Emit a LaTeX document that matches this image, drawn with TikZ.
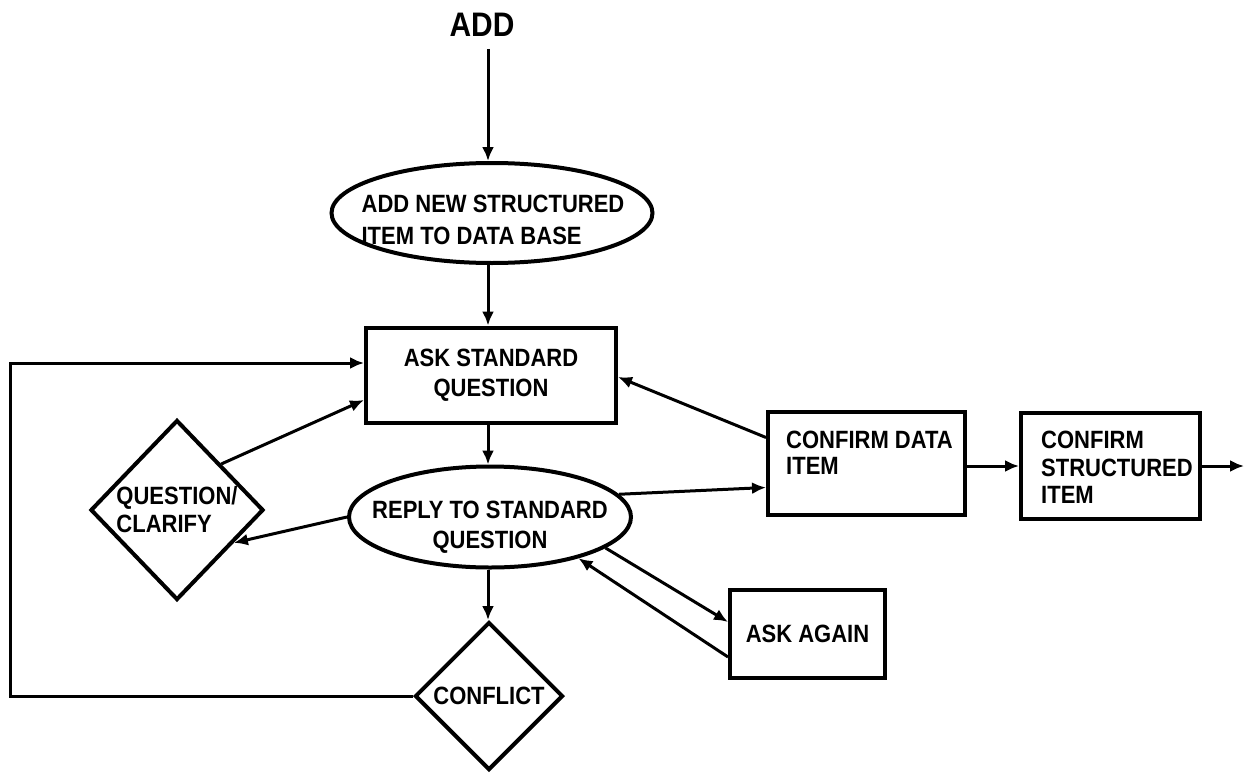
\documentclass[tikz,border=0pt]{standalone}
\usepackage{fontspec}
\setmainfont{Liberation Sans}[FakeStretch=0.88]
\usetikzlibrary{shapes.geometric,arrows.meta}
\begin{document}
\begin{tikzpicture}[x=1pt,y=-1pt,
  txt/.style={font=\bfseries\fontsize{25}{30}\selectfont, inner sep=0pt},
  oval/.style={ellipse, draw, line width=4pt, inner sep=0pt},
  boxnode/.style={rectangle, draw, line width=4pt, inner sep=0pt,
    font=\bfseries\fontsize{25}{30}\selectfont, align=center},
  decision/.style={diamond, draw, line width=4pt, inner sep=0pt,
    font=\bfseries\fontsize{25}{28}\selectfont},
  flow/.style={line width=3pt, -{Latex[length=14pt,width=12pt]}},
]
\useasboundingbox (0,0) rectangle (1249,773);

% entry label
\node[txt, font=\bfseries\fontsize{34}{34}\selectfont] (add) at (482,25) {ADD};

% main column
\node[oval, minimum width=321pt, minimum height=100pt] (new) at (492,213) {};
\node[txt, align=left, font=\bfseries\fontsize{25}{32}\selectfont] (newtext) at (493,220)
  {ADD NEW STRUCTURED\\ITEM TO DATA BASE};
\node[boxnode, minimum width=250pt, minimum height=95pt] (ask) at (491,375)
  {ASK STANDARD\\QUESTION};
\node[oval, minimum width=282pt, minimum height=101pt] (reply) at (490,517) {};
\node[txt, align=center] (replytext) at (490,527) {REPLY TO STANDARD\\QUESTION};
\node[decision, minimum width=148pt, minimum height=148pt] (conflict) at (489,696) {CONFLICT};

% side steps
\node[decision, minimum width=173pt, minimum height=180pt, align=left] (clarify) at (177,510)
  {QUESTION/\\CLARIFY};
\node[boxnode, minimum width=155pt, minimum height=88pt] (again) at (807.5,634) {ASK AGAIN};
\node[boxnode, minimum width=197pt, minimum height=103pt] (cd) at (866.5,463.5) {};
\node[txt, align=left, anchor=north west, font=\bfseries\fontsize{25}{26}\selectfont] (cdtext)
  at (786,431) {CONFIRM DATA\\ITEM};
\node[boxnode, minimum width=179pt, minimum height=106pt] (cs) at (1110.5,466) {};
\node[txt, align=left, anchor=north west, font=\bfseries\fontsize{25}{27.5}\selectfont] (cstext)
  at (1041,431) {CONFIRM\\STRUCTURED\\ITEM};

\coordinate (exit) at (1244,466);
\coordinate (loopturn) at (10,363);

% connectors
\draw[flow] ([xshift=6pt,yshift=-12pt]add.south) -- ([xshift=-4pt]new.north);
\draw[flow] ([xshift=-4pt]new.south) -- ([xshift=-3pt]ask.north);
\draw[flow] ([xshift=-3pt]ask.south) -- ([xshift=-2pt]reply.north);
\draw[flow] ([xshift=-2pt]reply.south) -- ([xshift=-1pt]conflict.north);
\draw[flow] (clarify.north east) -- ([yshift=-25pt]ask.west);
\draw[flow] (reply.west) -- (clarify.330);
\draw[flow] (reply.10) -- ([yshift=-24pt]cd.west);
\draw[flow] ([yshift=26pt]cd.west) -- ([yshift=-2pt]ask.east);
\draw[flow] (cs.west -| cd.east) -- (cs.west);
\draw[flow] (cs.east) -- (exit);
\draw[flow] (reply.345) -- ([yshift=12pt]again.west);
\draw[flow] ([yshift=-23pt]again.west) -- (reply.335);
\draw[flow] (conflict.west) -| (loopturn) -- ([yshift=12pt]ask.west);
\end{tikzpicture}
\end{document}
